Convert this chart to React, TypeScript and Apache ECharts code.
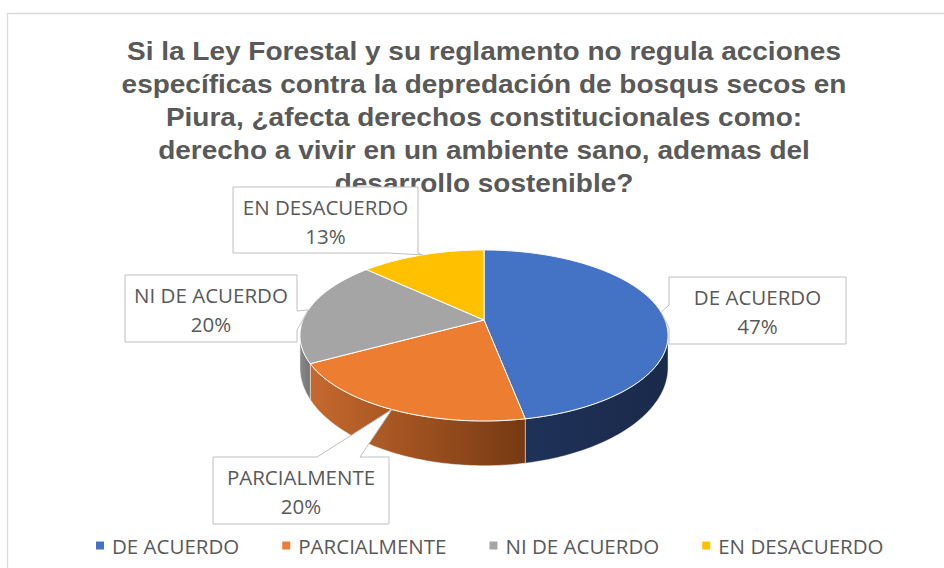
import React, { useEffect, useRef } from "react";
import * as echarts from "echarts";

// ---- data ----
const categories = ["DE ACUERDO", "PARCIALMENTE", "NI DE ACUERDO", "EN DESACUERDO"];
const percentages = [47, 20, 20, 13];
const titleLines = [
  "Si la Ley Forestal y su reglamento no regula acciones",
  "específicas contra la depredación de bosqus secos en",
  "Piura, ¿afecta derechos constitucionales como:",
  "derecho a vivir en un ambiente sano, ademas del",
  "desarrollo sostenible?",
];

// ---- styles / layout ----
const topColors = ["#4472C4", "#ED7D31", "#A5A5A5", "#FFC000"];
const wallColors = [
  ["#1e3157", "#1a2a4b"],
  ["#c6692e", "#763912"],
  ["#8a8a8a", "#737373"],
  ["#bf9000", "#9a7400"],
];
const PIE = { cx: 484, cy: 320, r: 181, rb: 82.7, p: 0.181, h: 30 };
const labelBoxes = [
  { x: 669, y: 277, w: 177, h: 67, edge: "left", a: 305, b: 328 },
  { x: 213, y: 457, w: 176, h: 67, edge: "top", a: 317, b: 360 },
  { x: 125, y: 275, w: 172, h: 67, edge: "right", a: 311, b: 330 },
  { x: 233, y: 187, w: 185, h: 66, edge: "bottom", a: 388, b: 418 },
];
const LABEL_FONT = "Open Sans";
const TEXT_COLOR = "#595959";

const total = percentages.reduce((s, v) => s + v, 0);

function proj(deg: number, depth = 0): number[] {
  const t = (deg * Math.PI) / 180;
  const gx = Math.sin(t);
  const gz = -Math.cos(t);
  const f = 1 / (1 - PIE.p * gz);
  return [PIE.cx + PIE.r * gx * f, PIE.cy + PIE.rb * gz * f + PIE.h * depth * f * f];
}

function arc(a: number, b: number, depth: number): number[][] {
  const pts: number[][] = [];
  const n = Math.max(2, Math.ceil(Math.abs(b - a)));
  for (let i = 0; i <= n; i++) pts.push(proj(a + ((b - a) * i) / n, depth));
  return pts;
}

// visible range of the outer wall (silhouette points)
const VIS_A = (Math.acos(-PIE.p) * 180) / Math.PI; // ~100.4
const VIS_B = 360 - VIS_A;

function makeRender(idx: number) {
  return (params: any, api: any) => {
    const v = api.value(0);
    let before = 0;
    for (let k = 0; k < idx; k++) before += percentages[k];
    const a = (before / total) * 360;
    const b = a + (v / total) * 360;
    const mid = (a + b) / 2;
    const children: any[] = [];

    const wa = Math.max(a, VIS_A);
    const wb = Math.min(b, VIS_B);
    if (wb > wa) {
      const topArc = arc(wa, wb, 0);
      const botArc = arc(wb, wa, 1);
      children.push({
        type: "polygon",
        z2: 0,
        shape: { points: topArc.concat(botArc) },
        style: {
          fill: new echarts.graphic.LinearGradient(0, 0, 1, 0, [
            { offset: 0, color: wallColors[idx][0] },
            { offset: 1, color: wallColors[idx][1] },
          ]),
          stroke: "rgba(255,255,255,0.55)",
          lineWidth: 0.8,
        },
      });
    }

    children.push({
      type: "polygon",
      z2: 10,
      shape: { points: [[PIE.cx, PIE.cy]].concat(arc(a, b, 0)) },
      style: { fill: topColors[idx], stroke: "#ffffff", lineWidth: 1 },
    });

    const box = labelBoxes[idx];
    const tip = proj(mid, 0);
    const { x, y, w, h } = box;
    let pts: number[][] = [];
    if (box.edge === "left") {
      pts = [[x, y], [x + w, y], [x + w, y + h], [x, y + h], [x, box.b], tip, [x, box.a]];
    } else if (box.edge === "right") {
      pts = [[x, y], [x + w, y], [x + w, box.a], tip, [x + w, box.b], [x + w, y + h], [x, y + h]];
    } else if (box.edge === "top") {
      pts = [[x, y], [box.a, y], tip, [box.b, y], [x + w, y], [x + w, y + h], [x, y + h]];
    } else {
      pts = [[x, y], [x + w, y], [x + w, y + h], [box.b, y + h], tip, [box.a, y + h], [x, y + h]];
    }
    children.push({
      type: "polygon",
      z2: 20,
      shape: { points: pts },
      style: { fill: "#ffffff", stroke: "#bfbfbf", lineWidth: 1 },
    });
    children.push({
      type: "text",
      z2: 21,
      style: {
        x: x + w / 2,
        y: y + h / 2 + 1,
        text: categories[idx] + "\n" + v + "%",
        align: "center",
        verticalAlign: "middle",
        fontSize: 20.5,
        fontFamily: LABEL_FONT,
        lineHeight: 29,
        fill: TEXT_COLOR,
      },
    });

    return { type: "group", children };
  };
}

export default function App() {
  const ref = useRef<HTMLDivElement>(null);
  useEffect(() => {
    if (!ref.current) return;
    const chart = echarts.init(ref.current, undefined, { renderer: "svg" });
    chart.setOption({
      animation: false,
      backgroundColor: "#ffffff",
      color: topColors,
      graphic: [
        {
          type: "rect",
          shape: { x: 7.5, y: 13.5, width: 1000, height: 600 },
          style: { fill: "none", stroke: "#d9d9d9", lineWidth: 1.3 },
          silent: true,
        },
        {
          type: "text",
          x: 484,
          y: 35,
          scaleX: 1.12,
          style: {
            x: 0,
            y: 0,
            text: titleLines.join("\n"),
            align: "center",
            verticalAlign: "top",
            fontSize: 25,
            fontWeight: "bold",
            fontFamily: "Liberation Sans",
            lineHeight: 33,
            fill: TEXT_COLOR,
          },
        },
      ],
      legend: {
        data: categories,
        left: 91,
        top: 530,
        icon: "rect",
        itemWidth: 8,
        itemHeight: 8,
        itemGap: 43,
        textStyle: { fontSize: 20.5, fontFamily: LABEL_FONT, color: TEXT_COLOR, padding: [0, 0, 0, 3] },
        selectedMode: false,
      },
      series: categories.map((name, i) => ({
        type: "custom",
        name,
        coordinateSystem: "none",
        itemStyle: { color: topColors[i] },
        data: [[percentages[i]]],
        renderItem: makeRender(i),
        silent: true,
      })),
    });
    return () => chart.dispose();
  }, []);
  return (
    <div
      ref={ref}
      style={{ position: "fixed", left: 0, top: 0, width: 944, height: 568, background: "#fff" }}
    />
  );
}
